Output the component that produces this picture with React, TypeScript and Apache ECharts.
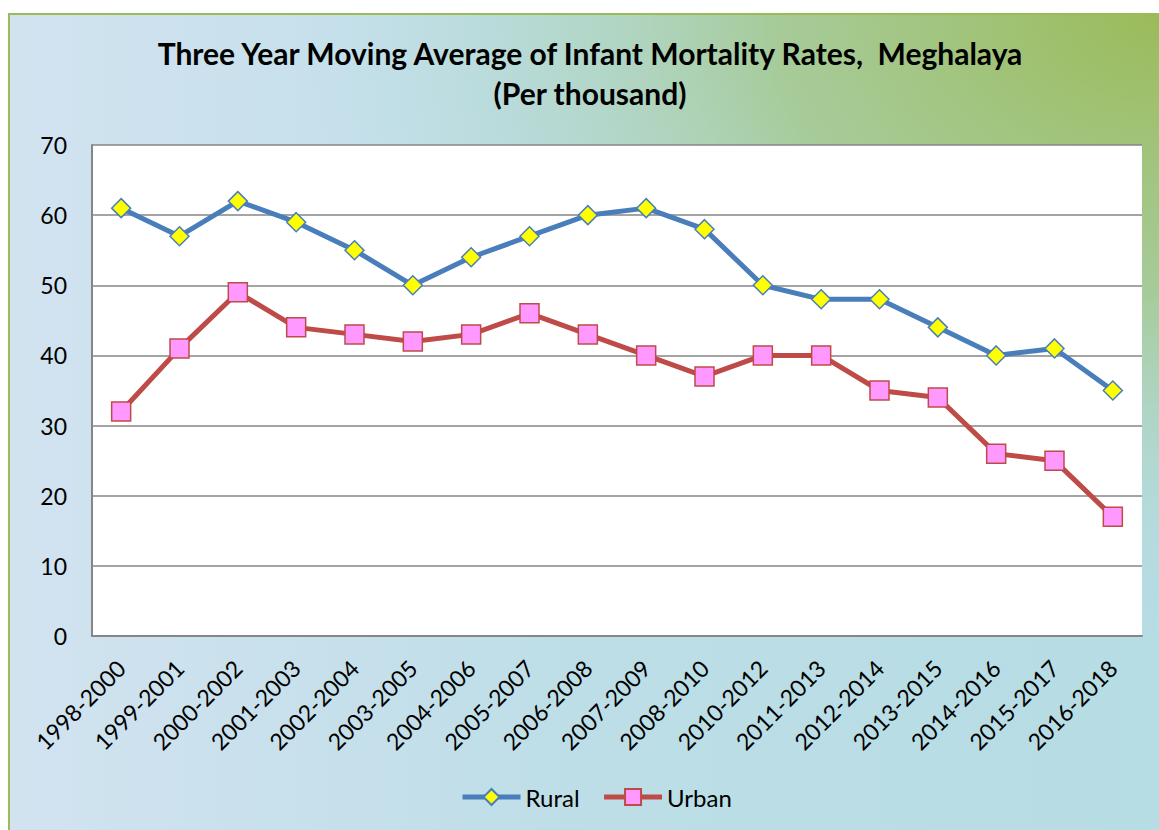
import React, { useEffect, useRef } from "react";
import * as echarts from "echarts";

const categories = [
  "1998-2000", "1999-2001", "2000-2002", "2001-2003", "2002-2004", "2003-2005",
  "2004-2006", "2005-2007", "2006-2008", "2007-2009", "2008-2010", "2010-2012",
  "2011-2013", "2012-2014", "2013-2015", "2014-2016", "2015-2017", "2016-2018",
];
const rural = [61, 57, 62, 59, 55, 50, 54, 57, 60, 61, 58, 50, 48, 48, 44, 40, 41, 35];
const urban = [32, 41, 49, 44, 43, 42, 43, 46, 43, 40, 37, 40, 40, 35, 34, 26, 25, 17];
const yTicks = { min: 0, max: 70, interval: 10 };

const FONT = "Lato, 'Open Sans', sans-serif";

export default function App() {
  const ref = useRef<HTMLDivElement>(null);
  useEffect(() => {
    if (!ref.current) return;
    const chart = echarts.init(ref.current, undefined, { renderer: "svg" });
    chart.setOption({
      animation: false,
      backgroundColor: "#ffffff",
      graphic: [
        {
          type: "rect",
          z: -10,
          shape: { x: 9, y: 14, width: 1160, height: 830 },
          style: {
            fill: new echarts.graphic.LinearGradient(0, 0, 1, 0, [
              { offset: 0, color: "#d2e3f0" },
              { offset: 0.5, color: "#bddee7" },
              { offset: 1, color: "#b6dce4" },
            ]),
            stroke: "#9bbb59",
            lineWidth: 2,
          },
          silent: true,
        },
        {
          type: "rect",
          z: -9,
          shape: { x: 10, y: 15, width: 1150, height: 820 },
          style: {
            fill: new echarts.graphic.RadialGradient(1, 0, 0.75, [
              { offset: 0, color: "rgba(155,187,89,1)" },
              { offset: 0.45, color: "rgba(163,200,140,0.85)" },
              { offset: 1, color: "rgba(180,220,225,0)" },
            ]),
          },
          silent: true,
        },
      ],
      title: {
        text: "Three Year Moving Average of Infant Mortality Rates,  Meghalaya\n(Per thousand)",
        left: 585,
        textAlign: "center",
        top: 28,
        textStyle: {
          fontFamily: FONT,
          fontSize: 30,
          fontWeight: "bold",
          color: "#000",
          lineHeight: 40,
        },
      },
      legend: {
        bottom: 16,
        left: 455,
        itemWidth: 58,
        itemHeight: 20,
        itemGap: 22,
        lineStyle: { width: 5 },
        textStyle: { fontFamily: FONT, fontSize: 24, color: "#000" },
        data: ["Rural", "Urban"],
      },
      grid: {
        left: 92,
        right: 17,
        top: 145,
        bottom: 194,
        show: true,
        backgroundColor: "#ffffff",
        borderWidth: 0,
      },
      xAxis: {
        type: "category",
        data: categories,
        boundaryGap: true,
        axisLine: { lineStyle: { color: "#868686", width: 2 } },
        axisTick: { show: false },
        axisLabel: {
          rotate: 45,
          margin: 28,
          interval: 0,
          fontFamily: FONT,
          fontSize: 23,
          color: "#000",
        },
      },
      yAxis: {
        type: "value",
        min: yTicks.min,
        max: yTicks.max,
        interval: yTicks.interval,
        axisLine: { show: true, lineStyle: { color: "#868686", width: 2 } },
        axisTick: { show: false },
        splitLine: { lineStyle: { color: "#868686", width: 1.5 } },
        axisLabel: {
          margin: 25,
          fontFamily: FONT,
          fontSize: 23,
          color: "#000",
        },
      },
      series: [
        {
          name: "Rural",
          type: "line",
          data: rural,
          symbol: "diamond",
          symbolSize: 19,
          lineStyle: { color: "#4a7ebb", width: 5 },
          itemStyle: { color: "#ffff00", borderColor: "#4a7ebb", borderWidth: 1.5 },
          z: 3,
        },
        {
          name: "Urban",
          type: "line",
          data: urban,
          symbol: "rect",
          symbolSize: 19,
          lineStyle: { color: "#be4b48", width: 5 },
          itemStyle: { color: "#ff99ff", borderColor: "#be4b48", borderWidth: 1.5 },
          z: 2,
        },
      ],
    });
    return () => chart.dispose();
  }, []);
  return (
    <div
      ref={ref}
      style={{ position: "fixed", left: 0, top: 0, width: 1159, height: 830 }}
    />
  );
}
